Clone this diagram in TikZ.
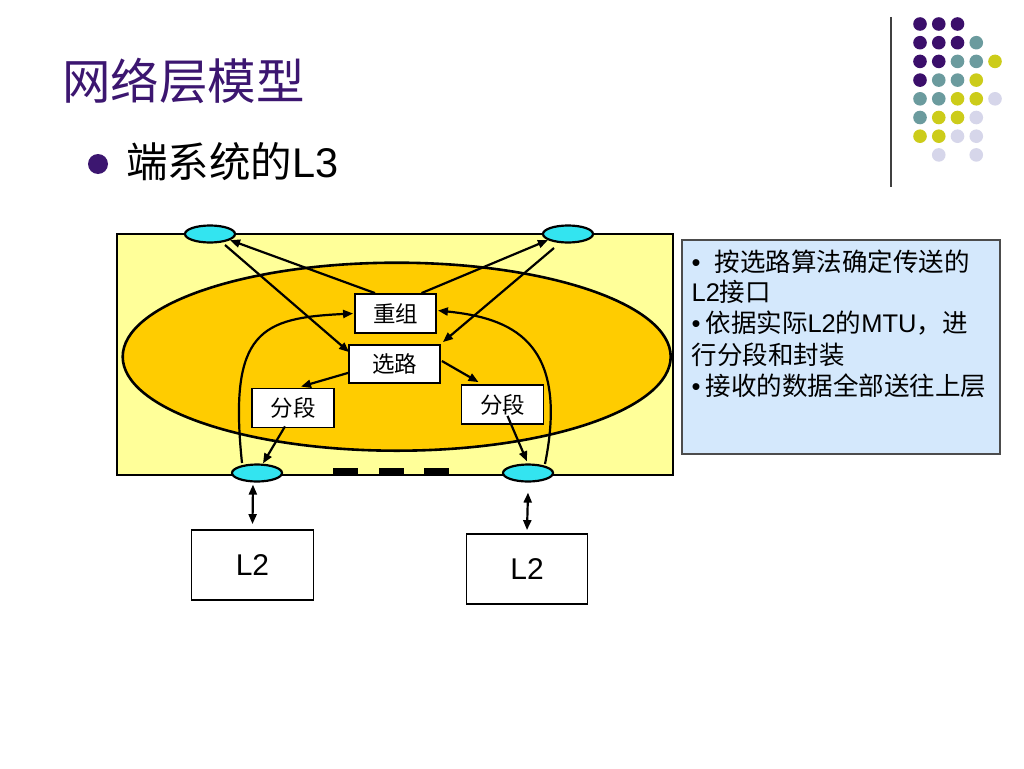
\documentclass[tikz,border=0pt]{standalone}
\usepackage{fontspec}
\setmainfont{Liberation Sans}
\newfontfamily\cjk{Noto Sans CJK SC}
\usetikzlibrary{shapes.geometric,arrows.meta,calc}
\definecolor{titlepurple}{RGB}{60,22,112}
\definecolor{dotP}{RGB}{59,15,107}
\definecolor{dotT}{RGB}{107,155,158}
\definecolor{dotY}{RGB}{204,204,26}
\definecolor{dotL}{RGB}{214,214,234}
\definecolor{sysyellow}{RGB}{255,255,153}
\definecolor{l3orange}{RGB}{255,204,0}
\definecolor{portcyan}{RGB}{51,228,240}
\definecolor{infoblue}{RGB}{212,232,252}
\tikzset{
  port/.style={ellipse, draw=black, line width=2.2pt, fill=portcyan, minimum width=50pt, minimum height=17pt, inner sep=0pt},
  fnbox/.style={rectangle, draw=black, line width=1.8pt, fill=white, inner sep=0pt, font=\fontsize{22.5pt}{22.5pt}\selectfont\cjk},
  l2box/.style={rectangle, draw=black, line width=1.8pt, fill=white, inner sep=0pt, minimum width=121pt, minimum height=70pt, font=\fontsize{30pt}{30pt}\selectfont},
  arr/.style={line width=2.2pt, -{Triangle[length=10pt,width=8pt]}},
  darr/.style={line width=2.2pt, {Triangle[length=10pt,width=8pt]}-{Triangle[length=10pt,width=8pt]}},
  infoline/.style={anchor=west, inner sep=0pt, font=\fontsize{25.5pt}{25.5pt}\selectfont},
}
\begin{document}
\begin{tikzpicture}[x=1pt,y=-1pt]
\useasboundingbox[fill=white] (0,0) rectangle (1024,768);

% title
\node[anchor=west, inner sep=0pt, text=titlepurple, font=\fontsize{48.5pt}{48.5pt}\selectfont\cjk] (title) at (62,81) {网络层模型};
\fill[titlepurple] (98,164) circle (10);
\node[anchor=west, inner sep=0pt, font=\fontsize{41.5pt}{41.5pt}\selectfont] (sub) at (126,162) {{\cjk 端系统的}L3};

% decoration
\draw[line width=1.5pt, black!75] (891,17) -- (891,187);
\foreach \c/\r/\col in {0/0/dotP,1/0/dotP,2/0/dotP,
  0/1/dotP,1/1/dotP,2/1/dotP,3/1/dotT,
  0/2/dotP,1/2/dotP,2/2/dotT,3/2/dotT,4/2/dotY,
  0/3/dotP,1/3/dotT,2/3/dotT,3/3/dotY,
  0/4/dotT,1/4/dotT,2/4/dotY,3/4/dotY,4/4/dotL,
  0/5/dotT,1/5/dotY,2/5/dotY,3/5/dotL,
  0/6/dotY,1/6/dotY,2/6/dotL,3/6/dotL,
  1/7/dotL,3/7/dotL}
  \fill[\col] ({920+18.75*\c},{24+18.7*\r}) circle (6.8);

% system
\node[rectangle, draw=black, line width=2.6pt, fill=sysyellow, minimum width=556pt, minimum height=241pt, inner sep=0pt] (sys) at (395,354.5) {};
\node[ellipse, draw=black, line width=2.6pt, fill=l3orange, minimum width=548pt, minimum height=188pt, inner sep=0pt] (l3) at (396.7,356.7) {};

\foreach \x in {345.5,391.2,436.2}
  \fill[black] (\x-12.7,468) rectangle (\x+12.7,475.5);

\node[port] (tl) at (210,234) {};
\node[port] (tr) at (568,234) {};
\node[port] (bl) at (257,473) {};
\node[port] (br) at (528,473) {};

\node[fnbox, minimum width=81pt, minimum height=39pt] (zr) at (395.5,313.5) {重组};
\node[fnbox, minimum width=91pt, minimum height=38pt] (xl) at (394.5,364) {选路};
\node[fnbox, minimum width=82pt, minimum height=39pt] (fl) at (293,408) {分段};
\node[fnbox, minimum width=82pt, minimum height=39pt] (fr) at (502.5,404.5) {分段};

\draw[arr] ($(zr.north)+(-20.5,0)$) -- (tl.-17);
\draw[arr] ($(zr.north)+(26,0)$) -- (tr.-163);
\draw[arr] ($(tl)+(15,11)$) -- ($(xl.north west)+(1,8)$);
\draw[arr] ($(tr)+(-14,14)$) -- ($(xl.north east)+(2,-2)$);
\draw[arr] ($(xl.south west)+(0,-11)$) -- ($(fl.north)+(8,-1)$);
\draw[arr] ($(xl.east)+(1,-3)$) -- ($(fr.north)+(-24,-2)$);
\draw[arr] ($(fl.south)+(-8,-2)$) -- ($(bl.north)+(6,0)$);
\draw[arr] ($(fr.south)+(5,-9)$) -- ($(br.north)+(-1,-2)$);
\draw[arr] ($(bl)+(-15,-10)$) .. controls (228,330) and (262,318) .. ($(zr.west)+(-1,0)$);
\draw[arr] ($(br)+(17,-9)$) .. controls (570,340) and (510,318) .. ($(zr.east)+(1,-3)$);

% L2
\node[l2box, minimum width=122pt] (l2a) at (252.5,565) {L2};
\node[l2box] (l2b) at (527,569) {L2};
\draw[darr] ($(bl.south)+(-4,2)$) -- ($(l2a.north)+(0,-5)$);
\draw[darr] ($(br.south)+(0,10)$) -- ($(l2b.north)+(0,-3)$);

% info
\node[rectangle, draw=black!70, line width=1.2pt, fill=infoblue, minimum width=318pt, minimum height=214pt, inner sep=0pt] (info) at (841,347) {};
\node[infoline] (i1) at ($(info.north west)+(10,22)$) {•\hspace{14pt}{\cjk 按选路算法确定传送的}};
\node[infoline] (i2) at ($(info.north west)+(10,52)$) {L2{\cjk 接口}};
\node[infoline] (i3) at ($(info.north west)+(10,84)$) {•\hspace{5pt}{\cjk 依据实际}L2{\cjk 的}MTU{\cjk ，进}};
\node[infoline] (i4) at ($(info.north west)+(10,115)$) {{\cjk 行分段和封装}};
\node[infoline] (i5) at ($(info.north west)+(10,146)$) {•\hspace{5pt}{\cjk 接收的数据全部送往上层}};
\end{tikzpicture}
\end{document}
